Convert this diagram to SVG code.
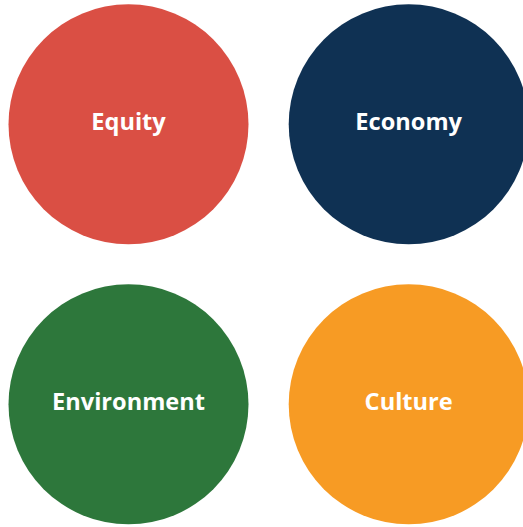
<svg xmlns="http://www.w3.org/2000/svg" width="523" height="527" viewBox="0 0 523 527">
<style>
.lbl{font-family:"Open Sans","Noto Sans","DejaVu Sans",sans-serif;font-weight:bold;font-size:23.6px;fill:#ffffff;text-anchor:middle}
</style>
<rect width="523" height="527" fill="#ffffff"/>
<g id="equity"><circle cx="128.5" cy="124.3" r="120" fill="#DA4F44"/><text class="lbl" x="128.5" y="130">Equity</text></g>
<g id="economy"><circle cx="408.7" cy="124.3" r="120" fill="#0F3153"/><text class="lbl" x="408.7" y="130">Economy</text></g>
<g id="environment"><circle cx="128.5" cy="404.3" r="120" fill="#2D773B"/><text class="lbl" x="128.5" y="409.5">Environment</text></g>
<g id="culture"><circle cx="408.7" cy="404.3" r="120" fill="#F79B24"/><text class="lbl" x="408.7" y="409.5">Culture</text></g>
<g id="connectors"/>
</svg>
